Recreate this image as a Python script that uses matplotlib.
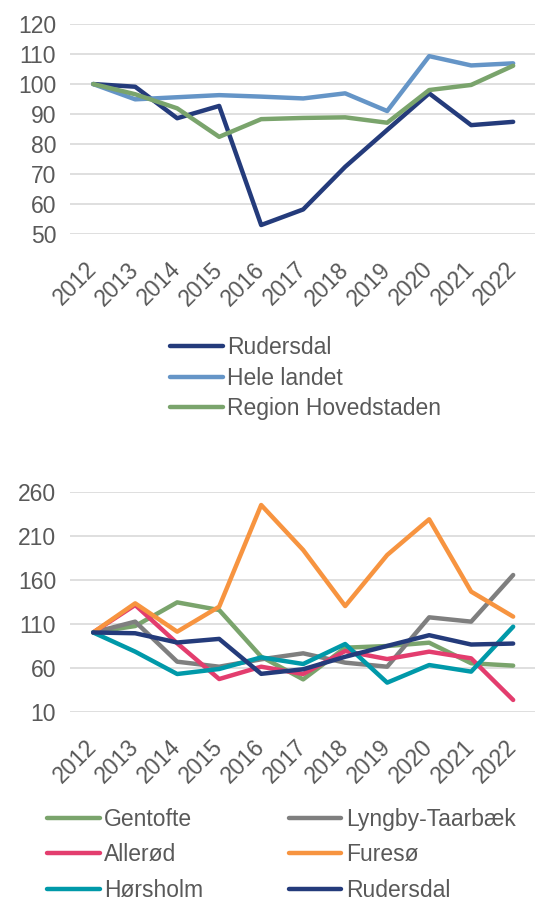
import numpy as np
import matplotlib
matplotlib.use('Agg')
import matplotlib.pyplot as plt

plt.rcParams['font.family'] = ['Liberation Sans', 'DejaVu Sans']

years = ['2012', '2013', '2014', '2015', '2016', '2017', '2018', '2019', '2020', '2021', '2022']

# top panel
rudersdal    = [100, 99.1, 88.6, 92.7, 53.0, 58.2, 72.4, 84.7, 96.9, 86.3, 87.4]
hele_landet  = [100, 94.9, 95.6, 96.3, 95.8, 95.2, 96.9, 91.0, 109.3, 106.2, 106.9]
region_hovst = [100, 96.6, 91.9, 82.4, 88.3, 88.7, 88.9, 87.1, 98.0, 99.7, 106.1]

# bottom panel
gentofte = [100, 107.3, 134.2, 125.5, 72.5, 46.7, 82.7, 84.6, 88.4, 65.0, 62.3]
lyngby   = [100, 112.3, 66.8, 61.1, 69.5, 76.3, 65.7, 61.1, 117.2, 112.3, 165.3]
alleroed = [100, 131.2, 87.7, 47.1, 61.1, 52.8, 78.9, 69.8, 78.2, 70.6, 23.3]
furesoe  = [100, 133.1, 100.9, 129.3, 244.8, 193.7, 130.0, 188.0, 228.6, 146.4, 118.0]
hoersh   = [100, 78.2, 52.8, 58.5, 71.7, 64.2, 86.9, 43.0, 63.0, 55.5, 106.6]

C = {'rud':'#243b7b','hele':'#6595c7','reg':'#7aa46c','gen':'#7aa46c','lyn':'#7f7f7f',
     'all':'#e33d6e','fur':'#f79440','hor':'#0099a9'}
TXT = '#595959'
FS = 16.5
LW = 3.2

fig = plt.figure(figsize=(5.35, 8.97), dpi=100)
x = np.arange(len(years))

def style(ax, ylo, yhi, step):
    ax.set_xlim(-0.55, 10.52)
    ax.set_ylim(ylo, yhi)
    ax.set_yticks(np.arange(ylo, yhi + 1, step))
    ax.set_xticks(x)
    ax.set_xticklabels(years, rotation=45, ha='right', va='center', rotation_mode='anchor')
    ax.tick_params(length=0, labelsize=FS, labelcolor=TXT)
    ax.tick_params(axis='y', pad=10)
    ax.tick_params(axis='x', pad=23)
    ax.grid(axis='y', color='#d9d9d9', lw=1.2)
    ax.set_axisbelow(True)
    for sp in ax.spines.values(): sp.set_visible(False)

ax1 = fig.add_axes([0.131, 0.7391, 0.869, 0.2341])
for vals, col, lbl in [(rudersdal, C['rud'], 'Rudersdal'),
                       (hele_landet, C['hele'], 'Hele landet'),
                       (region_hovst, C['reg'], 'Region Hovedstaden')]:
    ax1.plot(x, vals, color=col, lw=LW, label=lbl, solid_capstyle='round', clip_on=False)
style(ax1, 50, 120, 10)
fig.legend(*ax1.get_legend_handles_labels(), loc='upper left', bbox_to_anchor=(170/535, 1-336/897),
           frameon=False, fontsize=FS, labelcolor=TXT, handlelength=2.3, handletextpad=0.2,
           labelspacing=0.33, borderaxespad=0, borderpad=0)

ax2 = fig.add_axes([0.131, 0.2066, 0.869, 0.2453])
series2 = [(gentofte, C['gen'], 'Gentofte'), (lyngby, C['lyn'], 'Lyngby-Taarbæk'),
           (alleroed, C['all'], 'Allerød'), (furesoe, C['fur'], 'Furesø'),
           (hoersh, C['hor'], 'Hørsholm'), (rudersdal, C['rud'], 'Rudersdal')]
for vals, col, lbl in series2:
    ax2.plot(x, vals, color=col, lw=LW, label=lbl, solid_capstyle='round', clip_on=False)
style(ax2, 10, 260, 50)
h, l = ax2.get_legend_handles_labels()
# reorder so ncol=2 fills row-wise
order = [0, 2, 4, 1, 3, 5]
fig.legend([h[i] for i in order], [l[i] for i in order], ncol=2, loc='upper left',
           bbox_to_anchor=(47/535, 1-808/897), frameon=False, fontsize=FS, labelcolor=TXT,
           handlelength=2.3, handletextpad=0.2, labelspacing=0.54, columnspacing=3.72,
           borderaxespad=0, borderpad=0)

plt.savefig('out.png', dpi=100)
